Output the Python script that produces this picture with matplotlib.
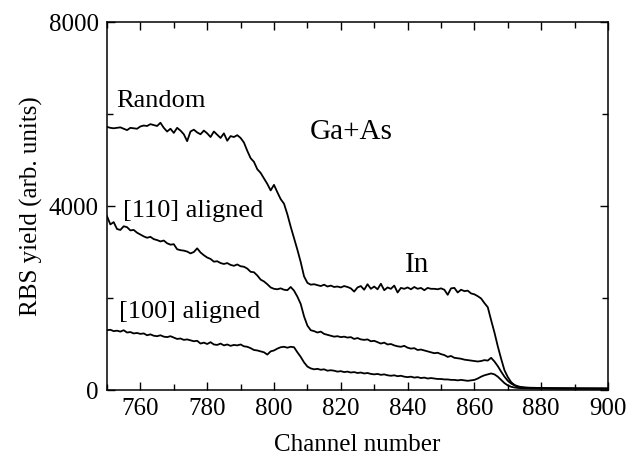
import numpy as np
import matplotlib.pyplot as plt
from matplotlib.ticker import MultipleLocator

plt.rcParams['font.family'] = ['Liberation Serif', 'DejaVu Serif']

channels = np.arange(750, 901)

random_yield = [
    5720, 5700, 5690, 5700, 5710, 5680, 5650, 5700, 5690, 5680,
    5730, 5750, 5740, 5780, 5760, 5740, 5810, 5700, 5620, 5680,
    5590, 5700, 5640, 5560, 5410, 5620, 5660, 5600, 5560, 5640,
    5580, 5500, 5620, 5550, 5480, 5580, 5420, 5520, 5500, 5540,
    5480, 5380, 5200, 5040, 4960, 4800, 4720, 4600, 4480, 4340,
    4460, 4300, 4150, 4050, 3820, 3550, 3300, 3050, 2780, 2470,
    2330, 2290, 2300, 2280, 2260, 2290, 2250, 2270, 2240, 2250,
    2230, 2260, 2240, 2210, 2140, 2230, 2260, 2180, 2300, 2200,
    2250, 2190, 2310, 2170, 2230, 2200, 2270, 2120, 2220, 2200,
    2230, 2190, 2240, 2200, 2220, 2170, 2220, 2200, 2200, 2190,
    2210, 2180, 2070, 2210, 2220, 2120, 2180, 2150, 2160, 2100,
    2080, 2040, 1990, 1890, 1800, 1520, 1250, 950, 680, 430,
    280, 170, 110, 80, 65, 55, 50, 50, 48, 45,
    45, 44, 42, 42, 40, 40, 40, 38, 38, 38, 36, 36, 36, 35, 35, 35, 34, 34, 34, 33, 33,
]

aligned_110 = [
    3780, 3600, 3650, 3500, 3480, 3560, 3540, 3470, 3480, 3420,
    3380, 3340, 3310, 3330, 3280, 3260, 3230, 3250, 3190, 3160,
    3170, 3060, 3040, 3030, 3010, 2970, 3000, 3080, 2990, 2930,
    2880, 2850, 2790, 2800, 2760, 2740, 2760, 2720, 2700, 2730,
    2690, 2680, 2640, 2570, 2560, 2490, 2400, 2360, 2300, 2230,
    2200, 2190, 2210, 2180, 2170, 2240, 2160, 2030, 1870, 1600,
    1400, 1300, 1280, 1250, 1270, 1220, 1200, 1180, 1160, 1170,
    1150, 1160, 1140, 1150, 1110, 1130, 1100, 1090, 1100, 1060,
    1070, 1040, 1010, 1030, 990, 1000, 970, 950, 940, 960,
    920, 900, 910, 870, 880, 860, 840, 820, 800, 810,
    780, 760, 720, 740, 700, 690, 680, 660, 650, 640,
    630, 620, 630, 650, 640, 700, 620, 520, 400, 290,
    200, 140, 100, 75, 60, 52, 48, 45, 42, 40,
    40, 38, 38, 36, 36, 35, 35, 34, 34, 33, 33, 32, 32, 32, 31, 31, 30, 30, 30, 30, 30,
]

aligned_100 = [
    1300, 1310, 1280, 1290, 1270, 1300, 1250, 1260, 1230, 1240,
    1220, 1230, 1190, 1210, 1180, 1170, 1190, 1160, 1150, 1170,
    1140, 1110, 1120, 1090, 1100, 1080, 1060, 1070, 1010, 1030,
    1000, 1040, 990, 980, 1010, 970, 990, 960, 980, 970,
    990, 950, 940, 910, 870, 860, 840, 820, 770, 840,
    860, 900, 930, 940, 920, 940, 930, 820, 720, 600,
    510, 470, 450, 460, 440, 450, 420, 430, 420, 400,
    410, 390, 400, 380, 390, 370, 380, 360, 370, 350,
    340, 350, 330, 340, 320, 310, 320, 300, 310, 290,
    280, 290, 270, 280, 260, 270, 250, 260, 250, 240,
    240, 230, 230, 220, 220, 210, 220, 210, 200, 210,
    220, 250, 290, 320, 340, 360, 340, 290, 220, 150,
    100, 70, 55, 45, 40, 38, 36, 35, 34, 33,
    33, 32, 32, 31, 31, 30, 30, 30, 30, 30, 30, 30, 30, 30, 30, 30, 30, 30, 30, 30, 30,
]

fig = plt.figure(figsize=(6.38, 4.59), dpi=100)
ax = fig.add_axes([0.1677, 0.1503, 0.7853, 0.8017])

for series in (random_yield, aligned_110, aligned_100):
    ax.plot(channels, series, color='black', lw=1.3)

ax.set_xlim(750, 900)
ax.set_ylim(0, 8000)
ax.xaxis.set_major_locator(MultipleLocator(20))
ax.xaxis.set_minor_locator(MultipleLocator(10))
ax.yaxis.set_major_locator(MultipleLocator(4000))
ax.yaxis.set_minor_locator(MultipleLocator(2000))
ax.tick_params(which='both', direction='in', top=True, right=True, width=1.0)
ax.tick_params(which='major', length=6, labelsize=18, pad=6)
ax.tick_params(which='minor', length=4)
for s in ax.spines.values():
    s.set_linewidth(1.1)

ax.set_xlabel('Channel number', fontsize=18, labelpad=10)
ax.set_ylabel('RBS yield (arb. units)', fontsize=18, labelpad=4)

ax.text(752.7, 6283, 'Random', fontsize=19, va='center', ha='left')
ax.text(810.8, 5600, 'Ga+As', fontsize=21, va='center', ha='left')
ax.text(754.8, 3891, '[110] aligned', fontsize=19, va='center', ha='left')
ax.text(839.2, 2717, 'In', fontsize=21, va='center', ha='left')
ax.text(753.6, 1696, '[100] aligned', fontsize=19, va='center', ha='left')

fig.savefig('out.png', dpi=100)
